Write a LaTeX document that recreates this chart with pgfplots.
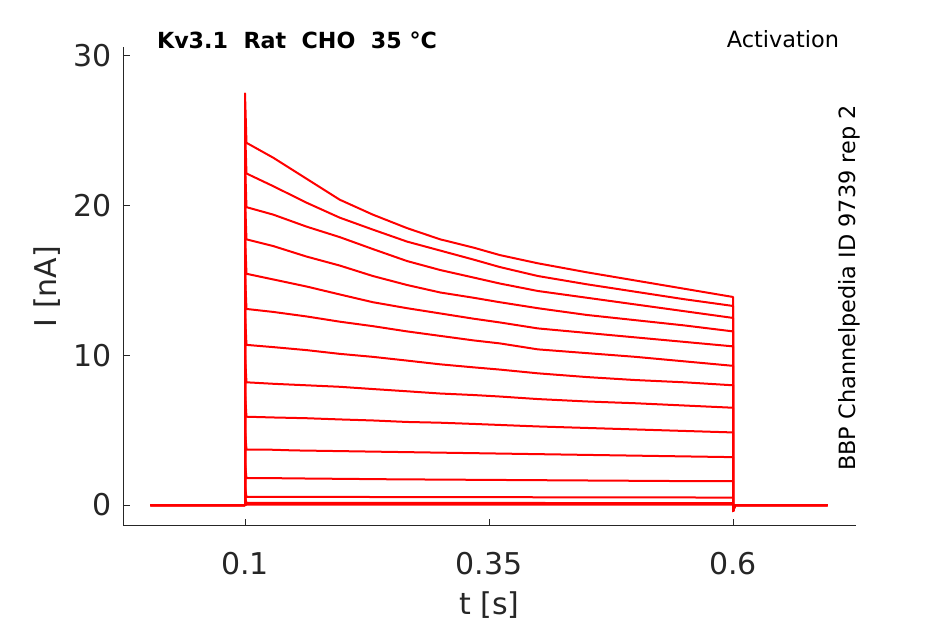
\documentclass[border=0pt]{standalone}
\usepackage{pgfplots}
\pgfplotsset{compat=1.18}
\usepackage{fontspec}
\setmainfont{DejaVu Sans}
\definecolor{axgray}{HTML}{262626}
\begin{document}
\begin{tikzpicture}[x=1pt,y=1pt]
\path[use as bounding box] (-61.5,-49) rectangle (411,263);
\begin{axis}[
  at={(0,0)}, anchor=south west,
  scale only axis, width=366.5pt, height=239.5pt,
  xmin=-0.025, xmax=0.726, ymin=-1.4, ymax=30.6,
  axis x line*=bottom, axis y line*=left,
  axis line style={axgray, line width=0.5pt},
  xtick={0.1,0.35,0.6}, xticklabels={0.1,0.35,0.6},
  ytick={0,10,20,30},
  tick style={axgray, line width=0.5pt}, major tick length=3.5pt,
  tick align=inside,
  /pgf/number format/assume math mode=true,
  ticklabel style={font=\fontsize{15}{18}\selectfont, text=axgray},
  xticklabel style={yshift=-9.5pt},
  yticklabel style={xshift=-2pt},
  xlabel={t [s]}, ylabel={I [nA]},
  label style={font=\fontsize{15}{18}\selectfont, text=axgray},
  xlabel style={yshift=-1.5pt},
  ylabel style={yshift=0pt},
  clip=false,
  tr/.style={red, line width=1pt, line join=round, solid, no markers},
]
% trace 1
\addplot[tr] coordinates {(0.003,0) (0.1,0) (0.1,27.5) (0.1015,24.2) (0.129,23.2) (0.163,21.8) (0.197,20.4) (0.231,19.4) (0.266,18.5) (0.3,17.75) (0.334,17.2) (0.361,16.7) (0.4,16.15) (0.45,15.55) (0.5,15.0) (0.55,14.45) (0.6,13.9) (0.6,-0.4) (0.602,0) (0.697,0)};
% trace 2
\addplot[tr] coordinates {(0.003,0) (0.1,0) (0.1,25.3) (0.1015,22.15) (0.129,21.3) (0.163,20.2) (0.197,19.2) (0.231,18.4) (0.266,17.6) (0.3,17.0) (0.334,16.4) (0.361,15.9) (0.4,15.3) (0.45,14.75) (0.5,14.25) (0.55,13.75) (0.6,13.3) (0.6,-0.4) (0.602,0) (0.697,0)};
% trace 3
\addplot[tr] coordinates {(0.003,0) (0.1,0) (0.1,23.0) (0.1015,19.9) (0.129,19.4) (0.163,18.6) (0.197,17.9) (0.231,17.1) (0.266,16.3) (0.3,15.7) (0.334,15.2) (0.361,14.8) (0.4,14.3) (0.45,13.85) (0.5,13.4) (0.55,12.95) (0.6,12.5) (0.6,-0.4) (0.602,0) (0.697,0)};
% trace 4
\addplot[tr] coordinates {(0.003,0) (0.1,0) (0.1,20.5) (0.1015,17.75) (0.129,17.3) (0.163,16.6) (0.197,16.0) (0.231,15.3) (0.266,14.7) (0.3,14.2) (0.334,13.85) (0.361,13.55) (0.4,13.15) (0.45,12.7) (0.5,12.35) (0.55,12.0) (0.6,11.6) (0.6,-0.4) (0.602,0) (0.697,0)};
% trace 5
\addplot[tr] coordinates {(0.003,0) (0.1,0) (0.1,18.0) (0.1015,15.45) (0.129,15.07) (0.163,14.6) (0.197,14.07) (0.231,13.55) (0.266,13.15) (0.3,12.8) (0.334,12.45) (0.361,12.2) (0.4,11.8) (0.45,11.5) (0.5,11.2) (0.55,10.9) (0.6,10.6) (0.6,-0.4) (0.602,0) (0.697,0)};
% trace 6
\addplot[tr] coordinates {(0.003,0) (0.1,0) (0.1,15.5) (0.1015,13.1) (0.129,12.9) (0.163,12.6) (0.197,12.25) (0.231,11.95) (0.266,11.6) (0.3,11.3) (0.334,11.0) (0.361,10.8) (0.4,10.4) (0.45,10.15) (0.5,9.9) (0.55,9.6) (0.6,9.3) (0.6,-0.4) (0.602,0) (0.697,0)};
% trace 7
\addplot[tr] coordinates {(0.003,0) (0.1,0) (0.1,12.8) (0.1015,10.7) (0.129,10.55) (0.163,10.35) (0.197,10.1) (0.231,9.9) (0.266,9.65) (0.3,9.4) (0.334,9.2) (0.361,9.05) (0.4,8.8) (0.45,8.55) (0.5,8.35) (0.55,8.2) (0.6,8.0) (0.6,-0.4) (0.602,0) (0.697,0)};
% trace 8
\addplot[tr] coordinates {(0.003,0) (0.1,0) (0.1,10.0) (0.1015,8.2) (0.129,8.1) (0.163,8.0) (0.197,7.9) (0.231,7.75) (0.266,7.6) (0.3,7.45) (0.334,7.35) (0.361,7.25) (0.4,7.08) (0.45,6.92) (0.5,6.8) (0.55,6.65) (0.6,6.5) (0.6,-0.4) (0.602,0) (0.697,0)};
% trace 9
\addplot[tr] coordinates {(0.003,0) (0.1,0) (0.1,7.5) (0.1015,5.9) (0.129,5.85) (0.163,5.8) (0.197,5.72) (0.231,5.65) (0.266,5.55) (0.3,5.5) (0.334,5.42) (0.361,5.35) (0.4,5.25) (0.45,5.15) (0.5,5.05) (0.55,4.95) (0.6,4.85) (0.6,-0.4) (0.602,0) (0.697,0)};
% trace 10
\addplot[tr] coordinates {(0.003,0) (0.1,0) (0.1,5.0) (0.1015,3.7) (0.125,3.7) (0.15,3.65) (0.2,3.6) (0.25,3.55) (0.3,3.5) (0.35,3.45) (0.4,3.4) (0.45,3.35) (0.5,3.3) (0.55,3.25) (0.6,3.2) (0.6,-0.4) (0.602,0) (0.697,0)};
% trace 11
\addplot[tr] coordinates {(0.003,0) (0.1,0) (0.1,2.8) (0.1015,1.8) (0.125,1.8) (0.15,1.78) (0.2,1.75) (0.25,1.72) (0.3,1.7) (0.35,1.68) (0.4,1.66) (0.45,1.64) (0.5,1.62) (0.55,1.6) (0.6,1.6) (0.6,-0.4) (0.602,0) (0.697,0)};
% trace 12
\addplot[tr] coordinates {(0.003,0) (0.1,0) (0.1,1.2) (0.1015,0.55) (0.2,0.54) (0.3,0.53) (0.4,0.52) (0.5,0.51) (0.6,0.5) (0.6,-0.4) (0.602,0) (0.697,0)};
% trace 13
\addplot[tr] coordinates {(0.003,0) (0.1,0) (0.1,0.5) (0.1015,0.15) (0.3,0.14) (0.6,0.13) (0.6,-0.4) (0.602,0) (0.697,0)};
% trace 14
\addplot[tr] coordinates {(0.003,0) (0.1,0) (0.1015,0.02) (0.6,0.02) (0.6,-0.3) (0.602,0) (0.697,0)};
\end{axis}
\node[anchor=west, font=\bfseries\fontsize{11.1}{13}\selectfont] at (13.5,243) {Kv3.1\ \ Rat\ \ CHO\ \ 35 °C};
\node[font=\fontsize{11.2}{13}\selectfont] at (330,243.5) {Activation};
\node[rotate=90, font=\fontsize{11.2}{13}\selectfont] at (363,119) {BBP Channelpedia ID 9739 rep 2};
\end{tikzpicture}
\end{document}
